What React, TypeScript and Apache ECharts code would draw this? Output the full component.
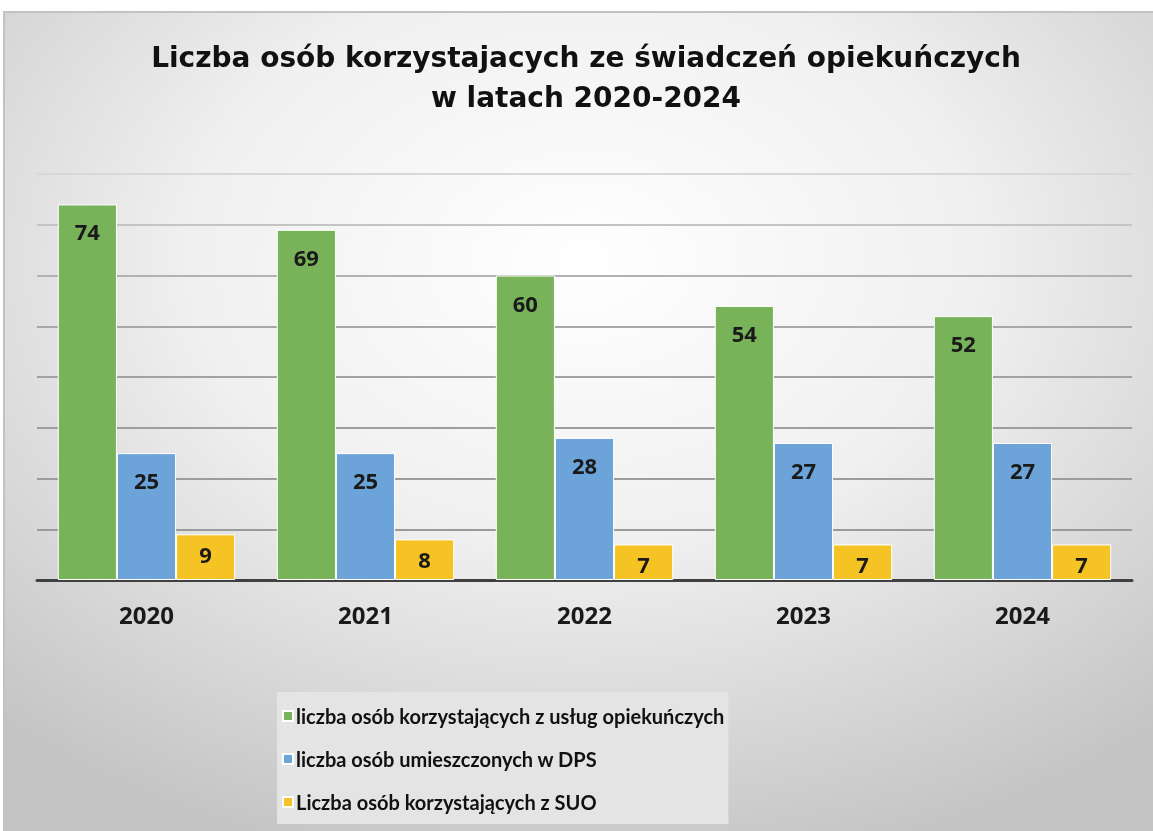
import React, { useEffect, useRef } from "react";
import * as echarts from "echarts";

const years = ["2020", "2021", "2022", "2023", "2024"];
const uslugiOpiekuncze = [74, 69, 60, 54, 52];
const umieszczeniDPS = [25, 25, 28, 27, 27];
const korzystajacySUO = [9, 8, 7, 7, 7];
const seriesNames = [
  "liczba osób korzystających z usług opiekuńczych",
  "liczba osób umieszczonych w DPS",
  "Liczba osób korzystających z SUO",
];
const titleLines = [
  "Liczba osób korzystajacych ze świadczeń opiekuńczych",
  "w latach 2020-2024",
];

const colors = ["#78B35A", "#6CA4D9", "#F6C324"];
const numFont = "'Open Sans', 'Noto Sans', sans-serif";
const textFont = "Lato, 'Noto Sans', sans-serif";
const titleFont = "'DejaVu Sans', sans-serif";

export default function App() {
  const ref = useRef<HTMLDivElement>(null);
  useEffect(() => {
    if (!ref.current) return;
    const chart = echarts.init(ref.current, null, { renderer: "svg" });
    const labelBase = {
      show: true,
      position: "insideTop" as const,
      color: "#1a1a1a",
      fontFamily: numFont,
      fontWeight: "bold" as const,
      fontSize: 22,
    };
    const mk = (name: string, data: number[], color: string, dist: number) => ({
      name,
      type: "bar",
      data,
      itemStyle: { color, borderColor: "#ffffff", borderWidth: 1 },
      label: { ...labelBase, distance: dist },
      barGap: "0%",
      barCategoryGap: "19%",
    });
    chart.setOption({
      animation: false,
      graphic: [
        {
          type: "rect",
          z: -10,
          silent: true,
          shape: { x: 4, y: 12, width: 1160, height: 830 },
          style: {
            fill: new echarts.graphic.RadialGradient(0.5, 0.3, 0.75, [
              { offset: 0, color: "#ffffff" },
              { offset: 0.45, color: "#f0f0f0" },
              { offset: 1, color: "#c4c4c4" },
            ]),
            stroke: "#c2c2c2",
            lineWidth: 2,
          },
        },
        ...titleLines.map((t, i) => ({
          type: "text",
          x: 586,
          y: 57 + i * 40,
          silent: true,
          style: {
            text: t,
            fill: "#111111",
            font: `bold 28px ${titleFont}`,
            textAlign: "center",
            textVerticalAlign: "middle",
          },
        })),
      ],
      legend: {
        orient: "vertical",
        left: 277,
        top: 692,
        itemWidth: 10,
        itemHeight: 10,
        itemGap: 19,
        icon: "rect",
        backgroundColor: "#e4e4e4",
        padding: [12, 4, 10, 5],
        textStyle: {
          fontFamily: textFont,
          fontWeight: "bold",
          fontSize: 20,
          lineHeight: 24,
          color: "#111111",
          padding: [0, 0, 0, -2],
        },
        data: seriesNames,
      },
      grid: { left: 37, right: 21, top: 174, bottom: 251, containLabel: false },
      xAxis: {
        type: "category",
        data: years,
        axisLine: { lineStyle: { color: "#404040", width: 3 } },
        axisTick: { show: false },
        axisLabel: {
          color: "#1a1a1a",
          fontFamily: numFont,
          fontWeight: "bold",
          fontSize: 24,
          margin: 22,
        },
      },
      yAxis: {
        type: "value",
        min: 0,
        max: 80,
        interval: 10,
        axisLabel: { show: false },
        axisLine: { show: false },
        axisTick: { show: false },
        splitLine: {
          lineStyle: {
            color: [
              "#999999",
              "#9a9a9a",
              "#9c9c9c",
              "#9e9e9e",
              "#a2a2a2",
              "#a8a8a8",
              "#b2b2b2",
              "#c4c4c4",
              "#d8d8d8",
            ],
            width: 2,
          },
        },
      },
      series: [
        mk(seriesNames[0], uslugiOpiekuncze, colors[0], 16),
        mk(seriesNames[1], umieszczeniDPS, colors[1], 16),
        mk(seriesNames[2], korzystajacySUO, colors[2], 9),
      ],
    });
    return () => chart.dispose();
  }, []);
  return (
    <div
      ref={ref}
      style={{ position: "fixed", left: 0, top: 0, width: 1153, height: 831 }}
    />
  );
}
